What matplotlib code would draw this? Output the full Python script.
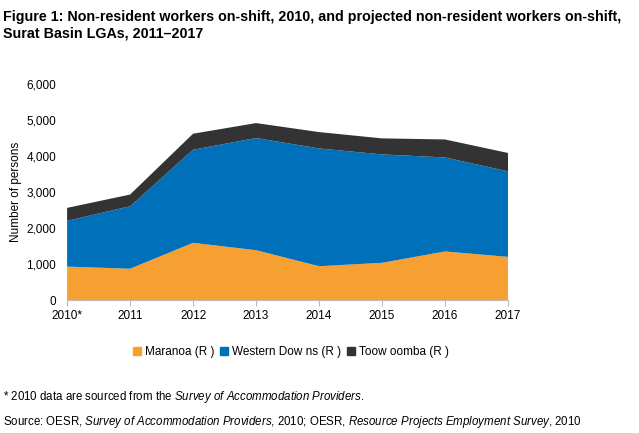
import matplotlib.pyplot as plt
import numpy as np
from matplotlib.patches import Patch

plt.rcParams['font.family'] = ['Liberation Sans', 'DejaVu Sans']
plt.rcParams['mathtext.fontset'] = 'custom'
plt.rcParams['mathtext.rm'] = 'Liberation Sans'
plt.rcParams['mathtext.it'] = 'Liberation Sans:italic'

years = ['2010*', '2011', '2012', '2013', '2014', '2015', '2016', '2017']
maranoa = [930, 870, 1590, 1385, 940, 1035, 1350, 1200]
western_downs = [1270, 1735, 2585, 3115, 3270, 3010, 2610, 2375]
toowoomba = [360, 325, 445, 415, 455, 445, 500, 510]

colors = ['#F7A032', '#0070BA', '#333333']
labels = ['Maranoa (R )', 'Western Dow ns (R )', 'Toow oomba (R )']

fig = plt.figure(figsize=(6.39, 4.33), dpi=100)
ax = fig.add_axes([0.105, 0.307, 0.69, 0.499])

x = np.arange(len(years))
ax.stackplot(x, maranoa, western_downs, toowoomba, colors=colors, linewidth=0)

ax.set_xlim(0, len(years) - 1)
ax.set_ylim(0, 6000)
ax.set_yticks(range(0, 6001, 1000))
ax.set_yticklabels([f'{v:,}' for v in range(0, 6001, 1000)])
ax.set_xticks(x)
ax.set_xticklabels(years)
ax.tick_params(axis='y', length=0, labelsize=8.5, pad=8)
ax.tick_params(axis='x', length=4, color='#BBBBBB', labelsize=8.5, pad=3)
for s in ['top', 'right', 'left']:
    ax.spines[s].set_visible(False)
ax.spines['bottom'].set_color('#BBBBBB')
ax.spines['bottom'].set_linewidth(0.8)
ax.set_ylabel('Number of persons', fontsize=8.5, labelpad=3)

handles = [Patch(color=c) for c in colors]
fig.legend(handles, labels, loc='center', bbox_to_anchor=(0.455, 0.187), ncol=3,
           frameon=False, fontsize=8.5, handlelength=0.7, handleheight=0.7,
           handletextpad=0.3, columnspacing=0.5)

fig.text(0.005, 0.978, 'Figure 1: Non-resident workers on-shift, 2010, and projected non-resident workers on-shift,\nSurat Basin LGAs, 2011\u20132017',
         fontsize=10.3, fontweight='bold', va='top', ha='left', linespacing=1.25)
fig.text(0.005, 0.083, '* 2010 data are sourced from the $\\it{Survey\\ of\\ Accommodation\\ Providers}$.',
         fontsize=8.3, va='center')
fig.text(0.005, 0.025, 'Source: OESR, $\\it{Survey\\ of\\ Accommodation\\ Providers}$, 2010; OESR, $\\it{Resource\\ Projects\\ Employment\\ Survey}$, 2010',
         fontsize=8.3, va='center')

fig.savefig('out.png', dpi=100)
